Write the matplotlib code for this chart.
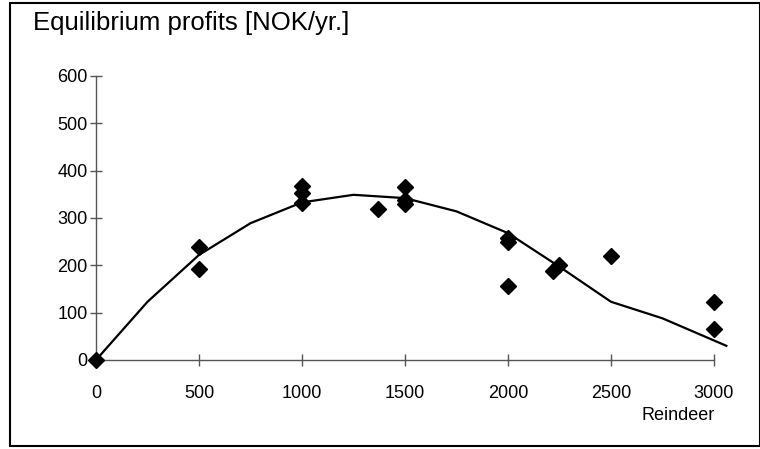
import matplotlib.pyplot as plt
from matplotlib.patches import Rectangle

# Observed equilibrium profits
obs_x = [0, 500, 500, 1000, 1000, 1000, 1370, 1500, 1500, 1500,
         2000, 2000, 2000, 2220, 2250, 2500, 3000, 3000]
obs_y = [0, 238, 192, 367, 352, 331, 319, 365, 338, 330,
         257, 250, 157, 188, 200, 220, 123, 65]

# Model curve
curve_x = [0, 250, 500, 750, 1000, 1250, 1500, 1750, 2000, 2250, 2500, 2750, 3060]
curve_y = [0, 123, 222, 289, 333, 349, 342, 314, 268, 197, 123, 88, 30]

x_ticks = [0, 500, 1000, 1500, 2000, 2500, 3000]
y_ticks = [0, 100, 200, 300, 400, 500, 600]

W, H = 760, 449


def do_plot():
    plt.rcParams['font.family'] = ['Liberation Sans', 'DejaVu Sans']
    f = plt.figure(figsize=(W / 100, H / 100), dpi=100)
    # axes placed so the data range matches the reference pixel box
    ax = f.add_axes([96 / W, 1 - 360 / H, (714 - 96) / W, (360 - 76) / H])
    ax.plot(curve_x, curve_y, '-', color='black', lw=1.6, clip_on=False)
    ax.plot(obs_x, obs_y, 'D', color='black', ms=8.3, ls='none', clip_on=False, zorder=3)
    ax.set_xlim(0, 3000)
    ax.set_ylim(0, 600)
    ax.set_xticks(x_ticks)
    ax.set_yticks(y_ticks)
    for s in ['top', 'right']:
        ax.spines[s].set_visible(False)
    for s in ['left', 'bottom']:
        ax.spines[s].set_color('#555555')
        ax.spines[s].set_linewidth(1)
    ax.tick_params(direction='inout', length=8, width=1, color='#555555',
                   labelsize=13)
    ax.tick_params(axis='y', pad=2)
    ax.tick_params(axis='x', pad=14)

    f.text(33 / W, 1 - 23 / H, 'Equilibrium profits [NOK/yr.]', fontsize=18.5,
           ha='left', va='center')
    f.text(678 / W, 1 - 416 / H, 'Reindeer', fontsize=13, ha='center', va='center')

    # outer frame
    f.patches.append(Rectangle((9.5 / W, 1 - 446 / H), (759.5 - 9.5) / W, (446 - 2.5) / H,
                               transform=f.transFigure, fill=False, ec='black', lw=1.5))
    plt.savefig('out.png', format='png', dpi=100)


if __name__ == '__main__':
    do_plot()
